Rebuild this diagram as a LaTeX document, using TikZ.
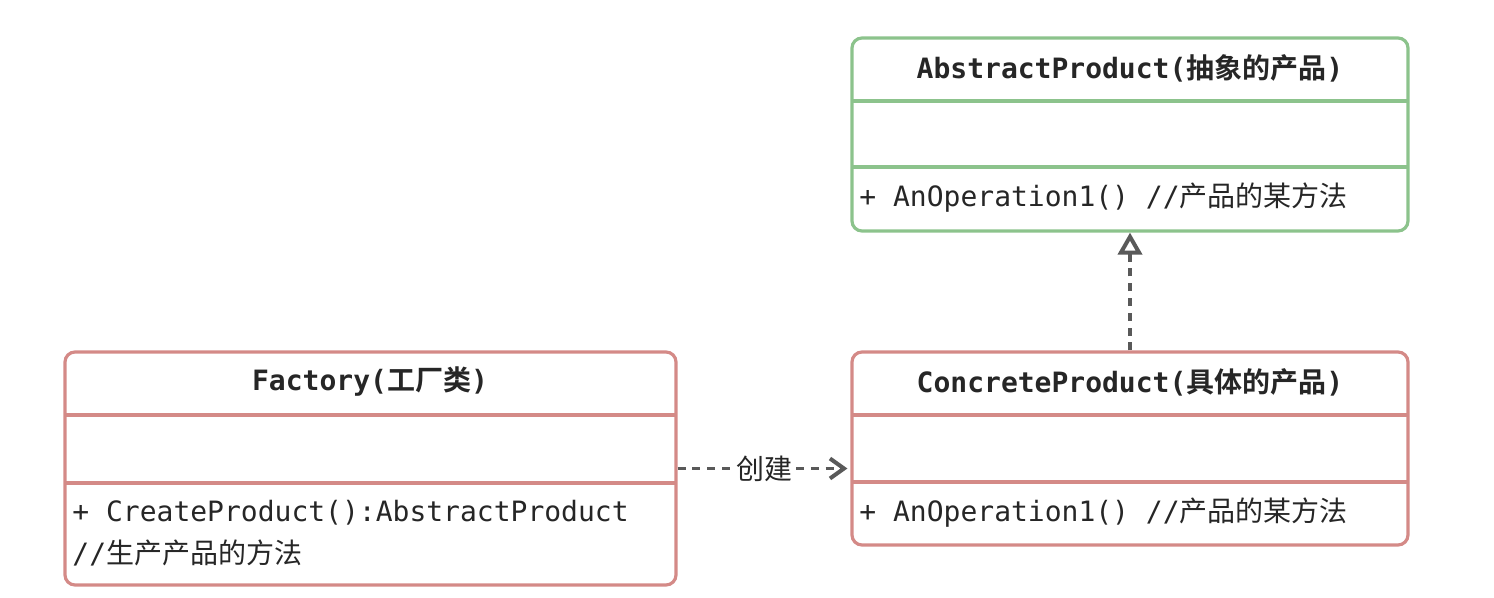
\documentclass[tikz,border=0pt]{standalone}
\usepackage{fontspec}
\setmonofont{DejaVu Sans Mono}
\newfontfamily\zh{Noto Sans CJK SC}[BoldFont={Noto Sans CJK SC Bold}]
\usetikzlibrary{arrows.meta}
\definecolor{gr}{HTML}{8CC38C}
\definecolor{rd}{HTML}{D48A87}
\definecolor{ln}{HTML}{595959}
\definecolor{tx}{HTML}{262626}
\newcommand\mo[1]{{\ttfamily #1}}
\newcommand\zc[1]{{\zh #1}}
\begin{document}
\begin{tikzpicture}[x=0.5pt,y=-0.5pt, font=\fontsize{14}{17}\selectfont, text=tx,
  box/.style={draw=#1, line width=1.6pt, rounded corners=5pt, rectangle, inner sep=0pt},
  sep/.style={draw=#1, line width=1.6pt},
  head/.style={font=\fontsize{14}{17}\selectfont\bfseries, inner sep=0pt},
  meth/.style={anchor=west, inner sep=0pt},
  dep/.style={draw=ln, line width=1.7pt, dash pattern=on 4pt off 3.4pt}
]
\useasboundingbox (0,0) rectangle (1494,598);
% AbstractProduct
\node[box=gr, minimum width=278pt, minimum height=96.5pt] (abs) at (1130,134.5) {};
\draw[sep=gr] (852,101) -- (1408,101);
\draw[sep=gr] (852,167) -- (1408,167);
\node[head] (absT) at (1130,68) {\mo{AbstractProduct(}\zc{抽象的产品}\mo{)}};
\node[meth] (absM) at (859,198) {\mo{+ AnOperation1() //}\zc{产品的某方法}};
% Factory
\node[box=rd, minimum width=305.5pt, minimum height=116.5pt] (fac) at (370.5,468.5) {};
\draw[sep=rd] (65,415) -- (676,415);
\draw[sep=rd] (65,483) -- (676,483);
\node[head] (facT) at (370,382) {\mo{Factory(}\zc{工厂类}\mo{)}};
\node[meth] (facM1) at (72,513) {\mo{+ CreateProduct():AbstractProduct}};
\node[meth] (facM2) at (72,553) {\mo{//}\zc{生产产品的方法}};
% ConcreteProduct
\node[box=rd, minimum width=278pt, minimum height=96.5pt] (con) at (1130,448.5) {};
\draw[sep=rd] (852,415) -- (1408,415);
\draw[sep=rd] (852,482) -- (1408,482);
\node[head] (conT) at (1130,382) {\mo{ConcreteProduct(}\zc{具体的产品}\mo{)}};
\node[meth] (conM) at (859,513) {\mo{+ AnOperation1() //}\zc{产品的某方法}};
% connectors
\draw[dep, shorten >=1.5pt, -{Straight Barb[length=7pt,width=10pt,line width=2pt]}] (fac.east) -- node[fill=white, inner sep=0.5pt, text=tx] (lbl) {\zc{创建}} (fac.east -| con.west);
\draw[dep, -{Triangle[open, length=11pt, width=12pt, line width=2pt, fill=white]}] (con.north) -- (abs.south);
\end{tikzpicture}
\end{document}
